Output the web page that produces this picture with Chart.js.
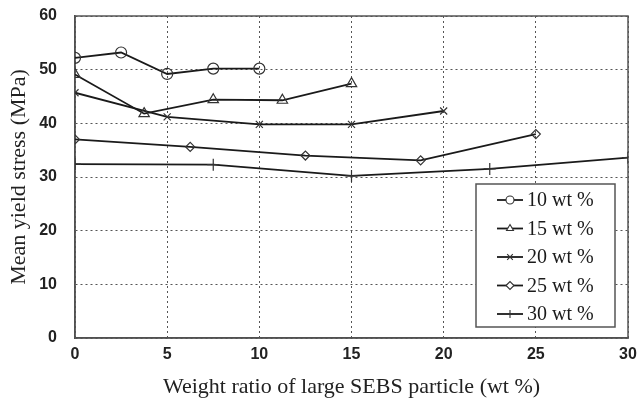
<!DOCTYPE html>
<html>
<head>
<meta charset="utf-8">
<script src="https://cdn.jsdelivr.net/npm/chart.js@4"></script>
<style>
  html, body { margin: 0; padding: 0; background: #fff; }
  #wrap { width: 638px; height: 412px; }
</style>
</head>
<body>
<div id="wrap"><canvas id="myChart" width="638" height="412"></canvas></div>
<script>
// Datos
const seriesLabels = ["10 wt %", "15 wt %", "20 wt %", "25 wt %", "30 wt %"];
const xs10 = [0, 2.5, 5, 7.5, 10];
const ys10 = [52.2, 53.2, 49.2, 50.2, 50.2];
const xs15 = [0, 3.75, 7.5, 11.25, 15];
const ys15 = [49.1, 41.8, 44.4, 44.3, 47.4];
const xs20 = [0, 5, 10, 15, 20];
const ys20 = [45.7, 41.2, 39.8, 39.8, 42.3];
const xs25 = [0, 6.25, 12.5, 18.75, 25];
const ys25 = [37.0, 35.6, 34.0, 33.1, 38.0];
const xs30 = [0, 7.5, 15, 22.5, 30];
const ys30 = [32.4, 32.3, 30.2, 31.5, 33.6];
const xTicks = [0, 5, 10, 15, 20, 25, 30];
const yTicks = [0, 10, 20, 30, 40, 50, 60];

const markers = ["circle", "triangle", "crossRot", "rectRot", "cross"];
const markerSize = [5.5, 6, 5, 4.5, 6];
const ink = "#1a1a1a";

function pts(xs, ys) {
  return xs.map((x, i) => ({ x: x, y: ys[i] }));
}
const allX = [xs10, xs15, xs20, xs25, xs30];
const allY = [ys10, ys15, ys20, ys25, ys30];

const datasets = seriesLabels.map((lab, i) => ({
  label: lab,
  data: pts(allX[i], allY[i]),
  borderColor: ink,
  backgroundColor: "#fff",
  borderWidth: 1.8,
  pointStyle: markers[i],
  pointRadius: markerSize[i],
  pointBorderWidth: 1.2,
  pointBorderColor: "#333",
  pointBackgroundColor: "rgba(255,255,255,0)",
  tension: 0,
}));

// Marco del area de trazado
const frame = {
  id: "frame",
  beforeDatasetsDraw(chart) {
    const a = chart.chartArea, c = chart.ctx;
    c.save();
    c.strokeStyle = "#555";
    c.lineWidth = 1.5;
    c.strokeRect(a.left, a.top, a.right - a.left, a.bottom - a.top);
    c.restore();
  },
};

// Leyenda propia: linea + marcador, dentro del grafico
const boxLegend = {
  id: "boxLegend",
  afterDraw(chart) {
    const a = chart.chartArea, c = chart.ctx;
    const right = a.right - 13, bottom = a.bottom - 11;
    const w = 139, h = 143;
    const left = right - w, top = bottom - h;
    c.save();
    c.fillStyle = "#fff";
    c.fillRect(left, top, w, h);
    c.strokeStyle = "#555";
    c.lineWidth = 1.5;
    c.strokeRect(left, top, w, h);
    c.font = "20px 'Liberation Serif'";
    c.textBaseline = "middle";
    seriesLabels.forEach((lab, i) => {
      const y = top + 16 + i * 28.5;
      const x0 = left + 21, x1 = left + 47;
      c.strokeStyle = ink;
      c.lineWidth = 1.8;
      c.beginPath();
      c.moveTo(x0, y);
      c.lineTo(x1, y);
      c.stroke();
      c.strokeStyle = "#333";
      c.fillStyle = "#fff";
      c.lineWidth = 1.1;
      Chart.helpers.drawPoint(c, { pointStyle: markers[i], radius: 4, borderWidth: 1.1 }, (x0 + x1) / 2, y);
      c.fillStyle = ink;
      c.fillText(lab, x1 + 4, y + 1);
    });
    c.restore();
  },
};

const tickFont = { family: "'Liberation Sans'", size: 16, weight: "bold" };
const titleFont = { family: "'Liberation Serif'", size: 22 };

const ctx = document.getElementById("myChart").getContext("2d");
const myChart = new Chart(ctx, {
  type: "line",
  data: { datasets: datasets },
  plugins: [frame, boxLegend],
  options: {
    responsive: false,
    animation: false,
    devicePixelRatio: 1,
    layout: { padding: { top: 16, right: 10, left: 0, bottom: 0 } },
    plugins: { legend: { display: false }, tooltip: { enabled: false } },
    scales: {
      x: {
        type: "linear",
        min: 0,
        max: 30,
        afterBuildTicks: (s) => { s.ticks = xTicks.map((v) => ({ value: v })); },
        afterFit: (s) => { s.height = 74; s.paddingLeft = 0; s.paddingRight = 0; },
        grid: { color: "#555", lineWidth: 1, drawTicks: false },
        // en v4 border.dash controla el punteado de la rejilla
        border: { color: "#444", width: 1.5, dash: [2, 3] },
        ticks: { color: "#222", font: tickFont, padding: 7, maxRotation: 0 },
        title: {
          display: true,
          text: "Weight ratio of large SEBS particle (wt %)",
          color: "#222",
          font: titleFont,
          padding: { top: 0, bottom: 12 },
        },
      },
      y: {
        type: "linear",
        min: 0,
        max: 60,
        afterBuildTicks: (s) => { s.ticks = yTicks.map((v) => ({ value: v })); },
        afterFit: (s) => { s.width = 75; s.paddingTop = 0; s.paddingBottom = 0; },
        grid: { color: "#555", lineWidth: 1, drawTicks: false },
        border: { color: "#444", width: 1.5, dash: [2, 3] },
        ticks: { color: "#222", font: tickFont, padding: 18 },
        title: {
          display: true,
          text: "Mean yield stress (MPa)",
          color: "#222",
          font: titleFont,
          padding: { top: 6, bottom: 0 },
        },
      },
    },
  },
});
</script>
</body>
</html>
